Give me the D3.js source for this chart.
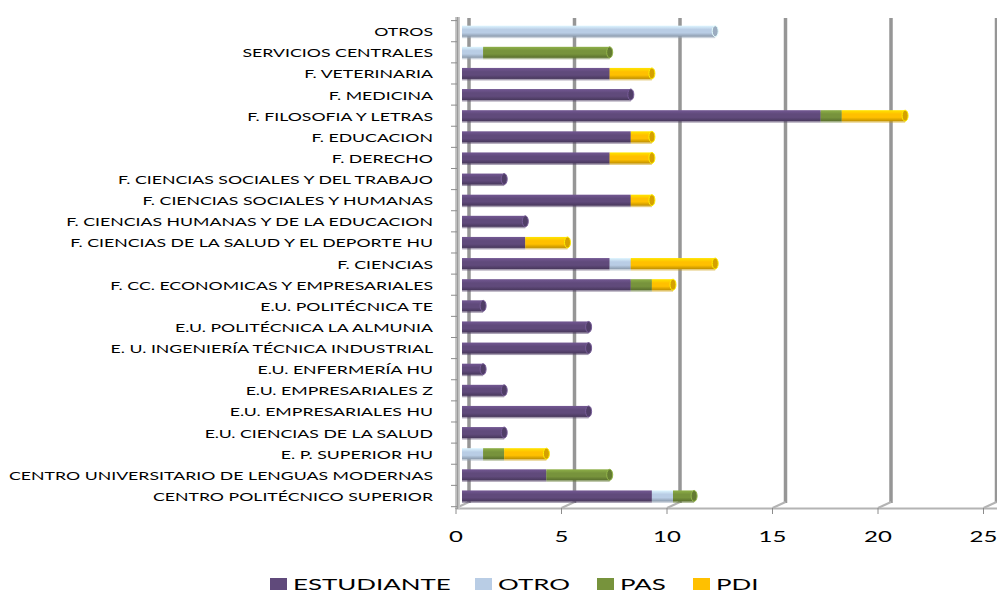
<!DOCTYPE html>
<meta charset="utf-8">
<style>
body { margin: 0; background: white; }
svg { overflow: hidden; font-family: Lato, "Open Sans", sans-serif; }
.cat text { font-size: 11.8px; fill: #000; }
.xlab text { font-size: 15px; fill: #000; }
.legend text { font-size: 16px; fill: #000; }
</style>
<svg width="997" height="594">
    <rect width="100%" height="100%" fill="white"/>
</svg>
<script src="https://d3js.org/d3.v7.min.js"></script>
<script>

var categories = ["OTROS", "SERVICIOS CENTRALES", "F. VETERINARIA", "F. MEDICINA",
    "F. FILOSOFIA Y LETRAS", "F. EDUCACION", "F. DERECHO",
    "F. CIENCIAS SOCIALES Y DEL TRABAJO", "F. CIENCIAS SOCIALES Y HUMANAS",
    "F. CIENCIAS HUMANAS Y DE LA EDUCACION", "F. CIENCIAS DE LA SALUD Y EL DEPORTE HU",
    "F. CIENCIAS", "F. CC. ECONOMICAS Y EMPRESARIALES", "E.U. POLITÉCNICA TE",
    "E.U. POLITÉCNICA LA ALMUNIA", "E. U. INGENIERÍA TÉCNICA INDUSTRIAL",
    "E.U. ENFERMERÍA HU", "E.U. EMPRESARIALES Z", "E.U. EMPRESARIALES HU",
    "E.U. CIENCIAS DE LA SALUD", "E. P. SUPERIOR HU",
    "CENTRO UNIVERSITARIO DE LENGUAS MODERNAS", "CENTRO POLITÉCNICO SUPERIOR"];

var series = ["ESTUDIANTE", "OTRO", "PAS", "PDI"];
var colors = ["#604a7b", "#b9cde5", "#77933c", "#ffc000"];

var estudiante = [0, 0, 7, 8, 17, 8, 7, 2, 8, 3, 3, 7, 8, 1, 6, 6, 1, 2, 6, 2, 0, 4, 9];
var otro       = [12, 1, 0, 0, 0, 0, 0, 0, 0, 0, 0, 1, 0, 0, 0, 0, 0, 0, 0, 0, 1, 0, 1];
var pas        = [0, 6, 0, 0, 1, 0, 0, 0, 0, 0, 0, 0, 1, 0, 0, 0, 0, 0, 0, 0, 1, 3, 1];
var pdi        = [0, 0, 2, 0, 3, 1, 2, 0, 1, 0, 2, 4, 1, 0, 0, 0, 0, 0, 0, 0, 2, 0, 0];

var xTicks = [0, 5, 10, 15, 20, 25];

var svg = d3.select("svg");

var rows = categories.map(function(c, i) {
    return { cat: c, ESTUDIANTE: estudiante[i], OTRO: otro[i], PAS: pas[i], PDI: pdi[i] };
});

var x = d3.scaleLinear().domain([0, 25]).range([462, 989.5]);
var y = d3.scaleBand().domain(categories).range([20.4, 506.7]).paddingInner(0.48).paddingOuter(0.25);
var color = d3.scaleOrdinal().domain(series).range(colors);

// cylinder shading
var defs = svg.append("defs");
series.forEach(function(s) {
    var c = d3.color(color(s));
    var g = defs.append("linearGradient")
        .attr("id", "g-" + s)
        .attr("x1", 0).attr("y1", 0).attr("x2", 0).attr("y2", 1);
    g.append("stop").attr("offset", "0%").attr("stop-color", c.brighter(0.5));
    g.append("stop").attr("offset", "35%").attr("stop-color", c);
    g.append("stop").attr("offset", "65%").attr("stop-color", c);
    g.append("stop").attr("offset", "100%").attr("stop-color", c.darker(0.8));
});

// back wall gridlines
var wallOff = 7;
svg.append("g")
    .selectAll("line")
    .data(xTicks)
    .enter().append("line")
    .attr("x1", function(d) { return x(d) + wallOff; })
    .attr("x2", function(d) { return x(d) + wallOff; })
    .attr("y1", 18)
    .attr("y2", 503)
    .attr("stroke", "#969696")
    .attr("stroke-width", 3.5);

// floor
var floor = svg.append("g").attr("stroke", "#b4b4b4").attr("fill", "none");
floor.append("line")
    .attr("x1", 456).attr("x2", 997).attr("y1", 508.5).attr("y2", 508.5)
    .attr("stroke-width", 2);
floor.selectAll("path.diag")
    .data(xTicks)
    .enter().append("path")
    .attr("d", function(d) { return "M" + (x(d) - 6) + ",508 L" + (x(d) + wallOff) + ",502"; })
    .attr("stroke-width", 2);

// left wall
svg.append("rect")
    .attr("x", 455).attr("y", 17).attr("width", 5).attr("height", 492)
    .attr("fill", "#c8c8c8");
svg.append("line")
    .attr("x1", 457.5).attr("x2", 457.5).attr("y1", 17).attr("y2", 509)
    .attr("stroke", "#9a9a9a").attr("stroke-width", 1.5);

// category ticks
var bounds = categories.map(function(c) { return y(c) - y.step() * y.paddingInner() / 2; });
bounds.push(y.range()[1]);
svg.append("g")
    .selectAll("line")
    .data(bounds)
    .enter().append("line")
    .attr("x1", 451).attr("x2", 457)
    .attr("y1", function(d) { return d; })
    .attr("y2", function(d) { return d; })
    .attr("stroke", "#8c8c8c");

// x axis tick marks
svg.append("g")
    .selectAll("line")
    .data(xTicks)
    .enter().append("line")
    .attr("x1", function(d) { return x(d) - 6; })
    .attr("x2", function(d) { return x(d) - 6; })
    .attr("y1", 508).attr("y2", 514)
    .attr("stroke", "#8c8c8c");

// stacked cylinders
var stack = d3.stack().keys(series)(rows);
var barH = y.bandwidth();

var layer = svg.append("g")
    .selectAll("g")
    .data(stack)
    .enter().append("g");

var segs = layer.selectAll("g")
    .data(function(d) {
        return d.map(function(p) { return { key: d.key, x0: p[0], x1: p[1], cat: p.data.cat }; })
            .filter(function(p) { return p.x1 > p.x0; });
    })
    .enter().append("g");

segs.append("rect")
    .attr("x", function(d) { return x(d.x0); })
    .attr("y", function(d) { return y(d.cat) + 1.5; })
    .attr("width", function(d) { return x(d.x1) - x(d.x0); })
    .attr("height", barH)
    .attr("fill", function(d) { return d3.color(color(d.key)).darker(0.6); })
    .attr("opacity", 0.5);

segs.append("rect")
    .attr("x", function(d) { return x(d.x0); })
    .attr("y", function(d) { return y(d.cat); })
    .attr("width", function(d) { return x(d.x1) - x(d.x0); })
    .attr("height", barH)
    .attr("fill", function(d) { return "url(#g-" + d.key + ")"; });

// end caps on the last segment of each bar
var totals = rows.map(function(r) {
    return { cat: r.cat, total: r.ESTUDIANTE + r.OTRO + r.PAS + r.PDI,
        key: r.PDI ? "PDI" : r.PAS ? "PAS" : r.OTRO ? "OTRO" : "ESTUDIANTE" };
});
svg.append("g")
    .selectAll("ellipse")
    .data(totals)
    .enter().append("ellipse")
    .attr("cx", function(d) { return x(d.total); })
    .attr("cy", function(d) { return y(d.cat) + barH / 2; })
    .attr("rx", 3)
    .attr("ry", barH / 2)
    .attr("fill", function(d) { return d3.color(color(d.key)).darker(0.5); })
    .attr("stroke", function(d) { return d3.color(color(d.key)).brighter(0.6); })
    .attr("stroke-width", 1);

// category labels
svg.append("g")
    .attr("class", "cat")
    .selectAll("text")
    .data(categories)
    .enter().append("text")
    .attr("transform", function(d) { return "translate(433," + (y(d) + barH / 2 + 5) + ") scale(1.5,1)"; })
    .attr("text-anchor", "end")
    .text(function(d) { return d; });

// x labels
svg.append("g")
    .attr("class", "xlab")
    .selectAll("text")
    .data(xTicks)
    .enter().append("text")
    .attr("transform", function(d) { return "translate(" + (x(d) - 6) + ",542) scale(1.6,1)"; })
    .attr("text-anchor", "middle")
    .text(function(d) { return d; });

// legend
var legX = [270, 475, 597, 693];
var legend = svg.append("g")
    .attr("class", "legend")
    .selectAll("g")
    .data(series)
    .enter().append("g")
    .attr("transform", function(d, i) { return "translate(" + legX[i] + ",578)"; });
legend.append("rect")
    .attr("width", 17).attr("height", 12)
    .attr("fill", function(d) { return color(d); });
legend.append("text")
    .attr("transform", "translate(23,12) scale(1.62,1)")
    .text(function(d) { return d; });

</script>
